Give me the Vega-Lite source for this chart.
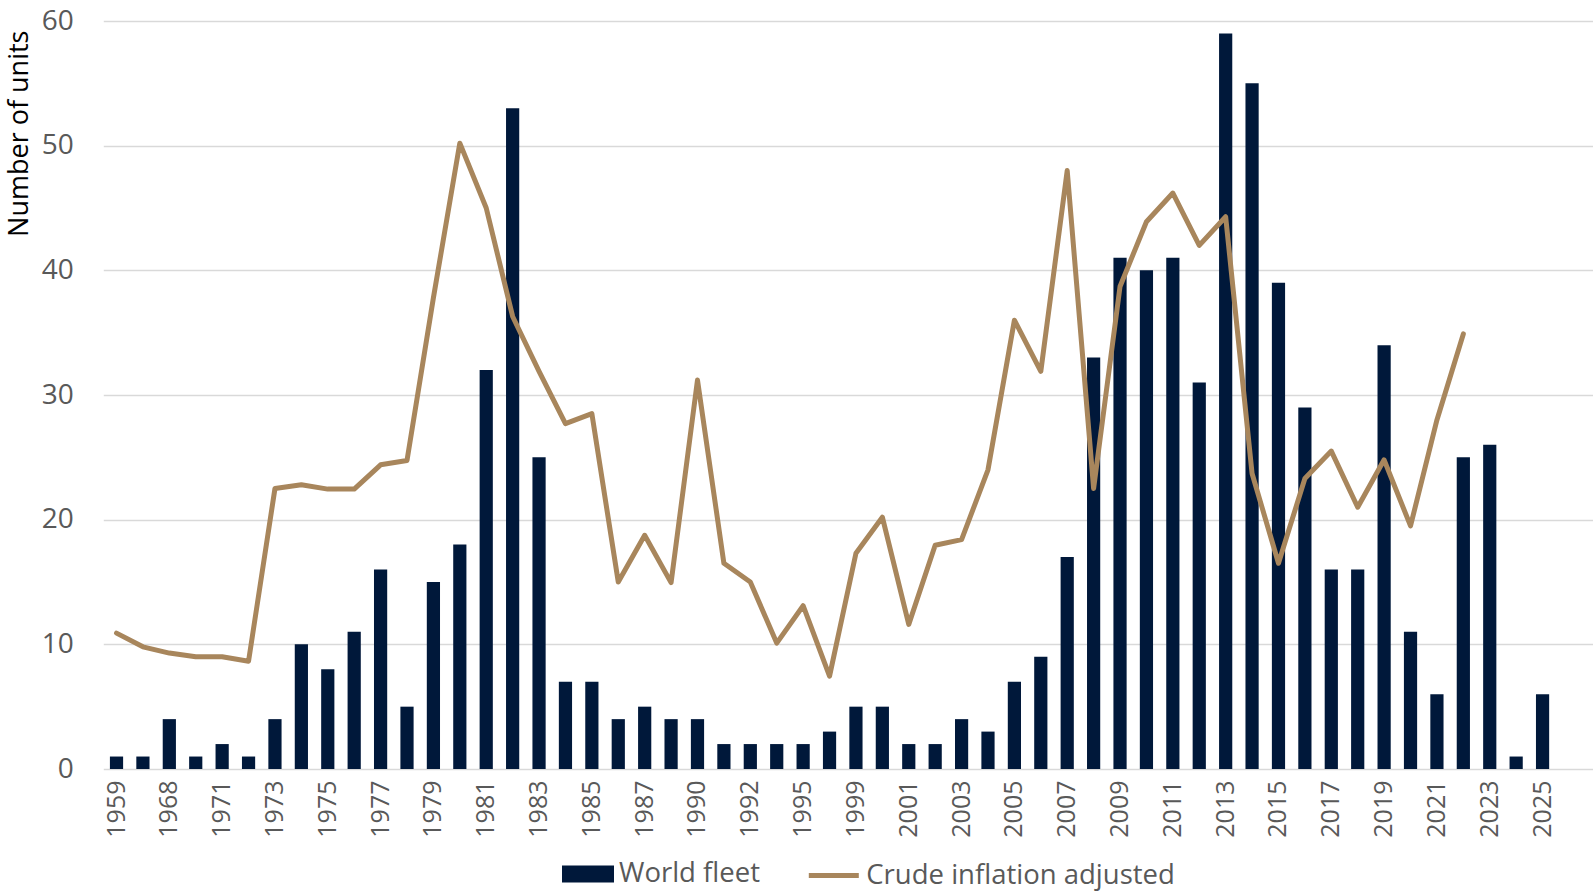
{
  "$schema": "https://vega.github.io/schema/vega-lite/v6.json",
  "autosize": {"type": "none"},
  "width": 1489.7,
  "height": 748,
  "padding": {"left": 103.3, "top": 21, "right": 0, "bottom": 122},
  "background": "white",
  "config": {
    "font": "Open Sans",
    "view": {"stroke": null}
  },
  "data": {
    "values": [
      {"year": "1959", "fleet": 1, "crude": 10.9},
      {"year": "1967", "fleet": 1, "crude": 9.8},
      {"year": "1968", "fleet": 4, "crude": 9.3},
      {"year": "1970", "fleet": 1, "crude": 9.0},
      {"year": "1971", "fleet": 2, "crude": 9.0},
      {"year": "1972", "fleet": 1, "crude": 8.65},
      {"year": "1973", "fleet": 4, "crude": 22.5},
      {"year": "1974", "fleet": 10, "crude": 22.8},
      {"year": "1975", "fleet": 8, "crude": 22.45},
      {"year": "1976", "fleet": 11, "crude": 22.45},
      {"year": "1977", "fleet": 16, "crude": 24.4},
      {"year": "1978", "fleet": 5, "crude": 24.75},
      {"year": "1979", "fleet": 15, "crude": 37.8},
      {"year": "1980", "fleet": 18, "crude": 50.2},
      {"year": "1981", "fleet": 32, "crude": 45.0},
      {"year": "1982", "fleet": 53, "crude": 36.3},
      {"year": "1983", "fleet": 25, "crude": 31.9},
      {"year": "1984", "fleet": 7, "crude": 27.7},
      {"year": "1985", "fleet": 7, "crude": 28.5},
      {"year": "1986", "fleet": 4, "crude": 15.0},
      {"year": "1987", "fleet": 5, "crude": 18.75},
      {"year": "1988", "fleet": 4, "crude": 14.95},
      {"year": "1990", "fleet": 4, "crude": 31.2},
      {"year": "1991", "fleet": 2, "crude": 16.5},
      {"year": "1992", "fleet": 2, "crude": 15.0},
      {"year": "1994", "fleet": 2, "crude": 10.1},
      {"year": "1995", "fleet": 2, "crude": 13.1},
      {"year": "1998", "fleet": 3, "crude": 7.45},
      {"year": "1999", "fleet": 5, "crude": 17.3},
      {"year": "2000", "fleet": 5, "crude": 20.2},
      {"year": "2001", "fleet": 2, "crude": 11.6},
      {"year": "2002", "fleet": 2, "crude": 17.95},
      {"year": "2003", "fleet": 4, "crude": 18.4},
      {"year": "2004", "fleet": 3, "crude": 24.0},
      {"year": "2005", "fleet": 7, "crude": 36.0},
      {"year": "2006", "fleet": 9, "crude": 31.9},
      {"year": "2007", "fleet": 17, "crude": 48.0},
      {"year": "2008", "fleet": 33, "crude": 22.5},
      {"year": "2009", "fleet": 41, "crude": 38.7},
      {"year": "2010", "fleet": 40, "crude": 43.9},
      {"year": "2011", "fleet": 41, "crude": 46.2},
      {"year": "2012", "fleet": 31, "crude": 42.0},
      {"year": "2013", "fleet": 59, "crude": 44.3},
      {"year": "2014", "fleet": 55, "crude": 23.7},
      {"year": "2015", "fleet": 39, "crude": 16.5},
      {"year": "2016", "fleet": 29, "crude": 23.3},
      {"year": "2017", "fleet": 16, "crude": 25.5},
      {"year": "2018", "fleet": 16, "crude": 21.0},
      {"year": "2019", "fleet": 34, "crude": 24.8},
      {"year": "2020", "fleet": 11, "crude": 19.5},
      {"year": "2021", "fleet": 6, "crude": 28.0},
      {"year": "2022", "fleet": 25, "crude": 34.9},
      {"year": "2023", "fleet": 26, "crude": null},
      {"year": "2024", "fleet": 1, "crude": null},
      {"year": "2025", "fleet": 6, "crude": null}
    ]
  },
  "encoding": {
    "x": {
      "field": "year",
      "type": "nominal",
      "sort": null,
      "scale": {"paddingInner": 0.5, "paddingOuter": 0.955, "align": 0.131},
      "axis": {
        "title": null,
        "values": ["1959","1968","1971","1973","1975","1977","1979","1981","1983","1985","1987","1990","1992","1995","1999","2001","2003","2005","2007","2009","2011","2013","2015","2017","2019","2021","2023","2025"],
        "labelAngle": 270,
        "labelFontSize": 25,
        "labelColor": "#595959",
        "labelPadding": 11,
        "ticks": false,
        "domain": false,
        "grid": false
      }
    }
  },
  "layer": [
    {
      "mark": {"type": "bar"},
      "encoding": {
        "y": {
          "field": "fleet",
          "type": "quantitative",
          "scale": {"domain": [0, 60], "nice": false},
          "axis": {
            "title": "Number of units",
            "titleFontSize": 27,
            "titleFontWeight": "normal",
            "titleColor": "#000000",
            "titleAngle": 270,
            "titleAlign": "right",
            "titleBaseline": "middle",
            "titleX": -84,
            "titleY": 9,
            "values": [0, 10, 20, 30, 40, 50, 60],
            "labelFontSize": 28,
            "labelColor": "#595959",
            "labelPadding": 30,
            "ticks": false,
            "domain": false,
            "grid": true,
            "gridColor": "#D9D9D9",
            "gridWidth": 1.5
          }
        },
        "fill": {
          "datum": "World fleet",
          "scale": {"domain": ["World fleet"], "range": ["#00183A"]},
          "legend": {
            "title": null,
            "orient": "none",
            "legendX": 458.7,
            "legendY": 827,
            "padding": 0,
            "symbolType": "M-1,-0.33H1V0.33H-1Z",
            "symbolSize": 2704,
            "symbolStrokeWidth": 0,
            "labelOffset": 5,
            "labelFontSize": 27.5,
            "labelColor": "#595959",
            "labelLimit": 1000
          }
        }
      }
    },
    {
      "transform": [{"filter": "datum.crude != null"}],
      "mark": {"type": "line", "strokeWidth": 5, "strokeJoin": "round", "strokeCap": "round"},
      "encoding": {
        "y": {"field": "crude", "type": "quantitative"},
        "stroke": {
          "datum": "Crude inflation adjusted",
          "scale": {"domain": ["Crude inflation adjusted"], "range": ["#A8865C"]},
          "legend": {
            "title": null,
            "orient": "none",
            "legendX": 703,
            "legendY": 827,
            "padding": 0,
            "symbolType": "stroke",
            "symbolSize": 2500,
            "symbolStrokeWidth": 5,
            "labelOffset": 5,
            "labelFontSize": 27.5,
            "labelColor": "#595959",
            "labelLimit": 1000
          }
        }
      }
    }
  ]
}
